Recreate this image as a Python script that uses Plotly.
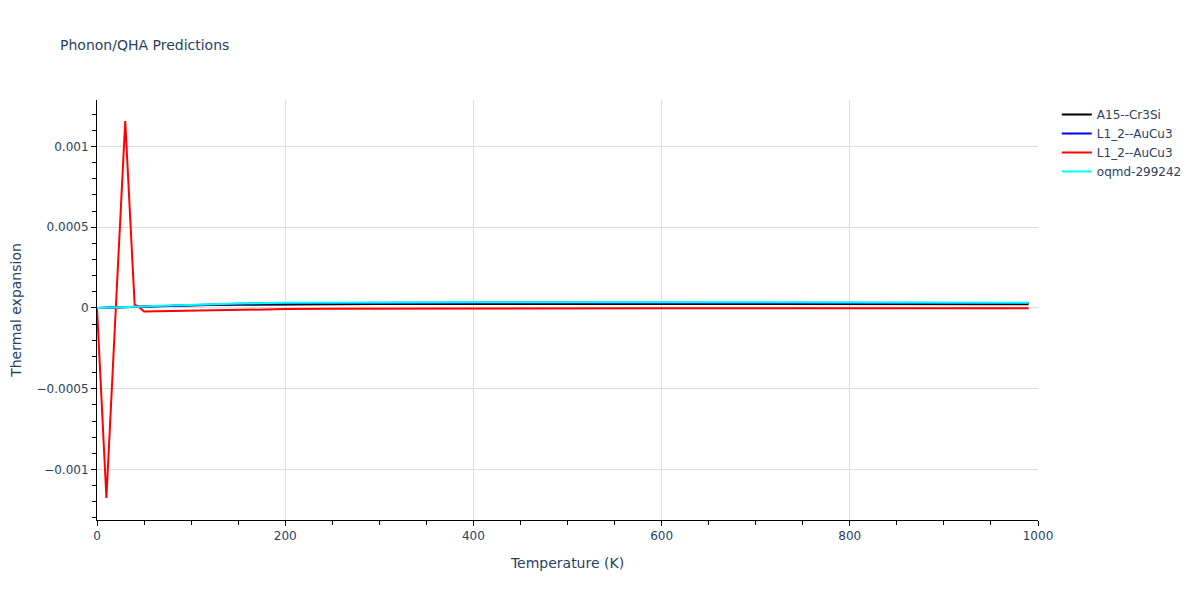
import plotly.graph_objects as go

# Temperatures (K)
temps = [0, 10, 20, 30, 40, 45, 50, 60, 80, 100, 120, 150, 200, 250, 300, 400, 500, 600, 700, 800, 900, 990]

a15_cr3si = [0, 0.0000005, 0.000002, 0.000004, 0.000006, 0.000007, 0.000008, 0.00001, 0.000013, 0.000016,
             0.000018, 0.00002, 0.000022, 0.000023, 0.000024, 0.000025, 0.000025, 0.000025, 0.000025, 0.000024, 0.000024, 0.000023]
l12_aucu3_blue = [0, 0.000001, 0.000003, 0.000005, 0.000007, 0.000008, 0.000009, 0.000011, 0.000015, 0.000019,
                  0.000022, 0.000026, 0.00003, 0.000032, 0.000033, 0.000034, 0.000034, 0.000034, 0.000033, 0.000033, 0.000032, 0.000031]
l12_aucu3_red = [0, -0.001177, 0.0000, 0.001158, 0.00002, 0.000004, -0.000022, -0.000021, -0.000018, -0.000015,
                 -0.000013, -0.00001, -0.000007, -0.000005, -0.000004, -0.000003, -0.000003, -0.000002, -0.000002, -0.000002, -0.000002, -0.000002]
oqmd_299242 = [0, 0.000001, 0.000003, 0.000005, 0.000007, 0.000008, 0.000009, 0.000012, 0.000016, 0.00002,
               0.000024, 0.000028, 0.000032, 0.000034, 0.000035, 0.000036, 0.000036, 0.000036, 0.000035, 0.000035, 0.000034, 0.000033]

series = [
    ("A15--Cr3Si", a15_cr3si, "black"),
    ("L1_2--AuCu3", l12_aucu3_blue, "blue"),
    ("L1_2--AuCu3", l12_aucu3_red, "red"),
    ("oqmd-299242", oqmd_299242, "cyan"),
]

fig = go.Figure()
for name, vals, color in series:
    fig.add_trace(go.Scatter(x=temps, y=vals, mode="lines", name=name,
                             line=dict(color=color, width=2)))

grid = "#dedede"
fig.update_layout(
    template="plotly_white",
    width=1192, height=592,
    font=dict(family="DejaVu Sans", size=12, color="#2a3f5f"),
    title=dict(text="Phonon/QHA Predictions", font=dict(size=14),
               x=52 / 1192, xanchor="left", y=1 - 37 / 592, yanchor="middle", yref="container"),
    margin=dict(l=89, r=162, t=92, b=80, autoexpand=False),
    legend=dict(font=dict(size=12)),
    xaxis=dict(title=dict(text="Temperature (K)", font=dict(size=14)), range=[0, 1000], dtick=200,
               showline=True, linecolor="black", ticks="outside", ticklen=5,
               tickcolor="black", gridcolor=grid, automargin=False,
               minor=dict(dtick=50, ticks="outside", ticklen=4, tickcolor="black"),
               zeroline=False),
    yaxis=dict(title=dict(text="Thermal expansion", font=dict(size=14)), range=[-0.001313, 0.001288], dtick=0.0005,
               showline=True, linecolor="black", ticks="outside", ticklen=5,
               tickcolor="black", gridcolor=grid, automargin=False,
               minor=dict(dtick=0.0001, ticks="outside", ticklen=4, tickcolor="black"),
               zeroline=True, zerolinecolor=grid, zerolinewidth=1),
)

fig.write_html("out.html")
